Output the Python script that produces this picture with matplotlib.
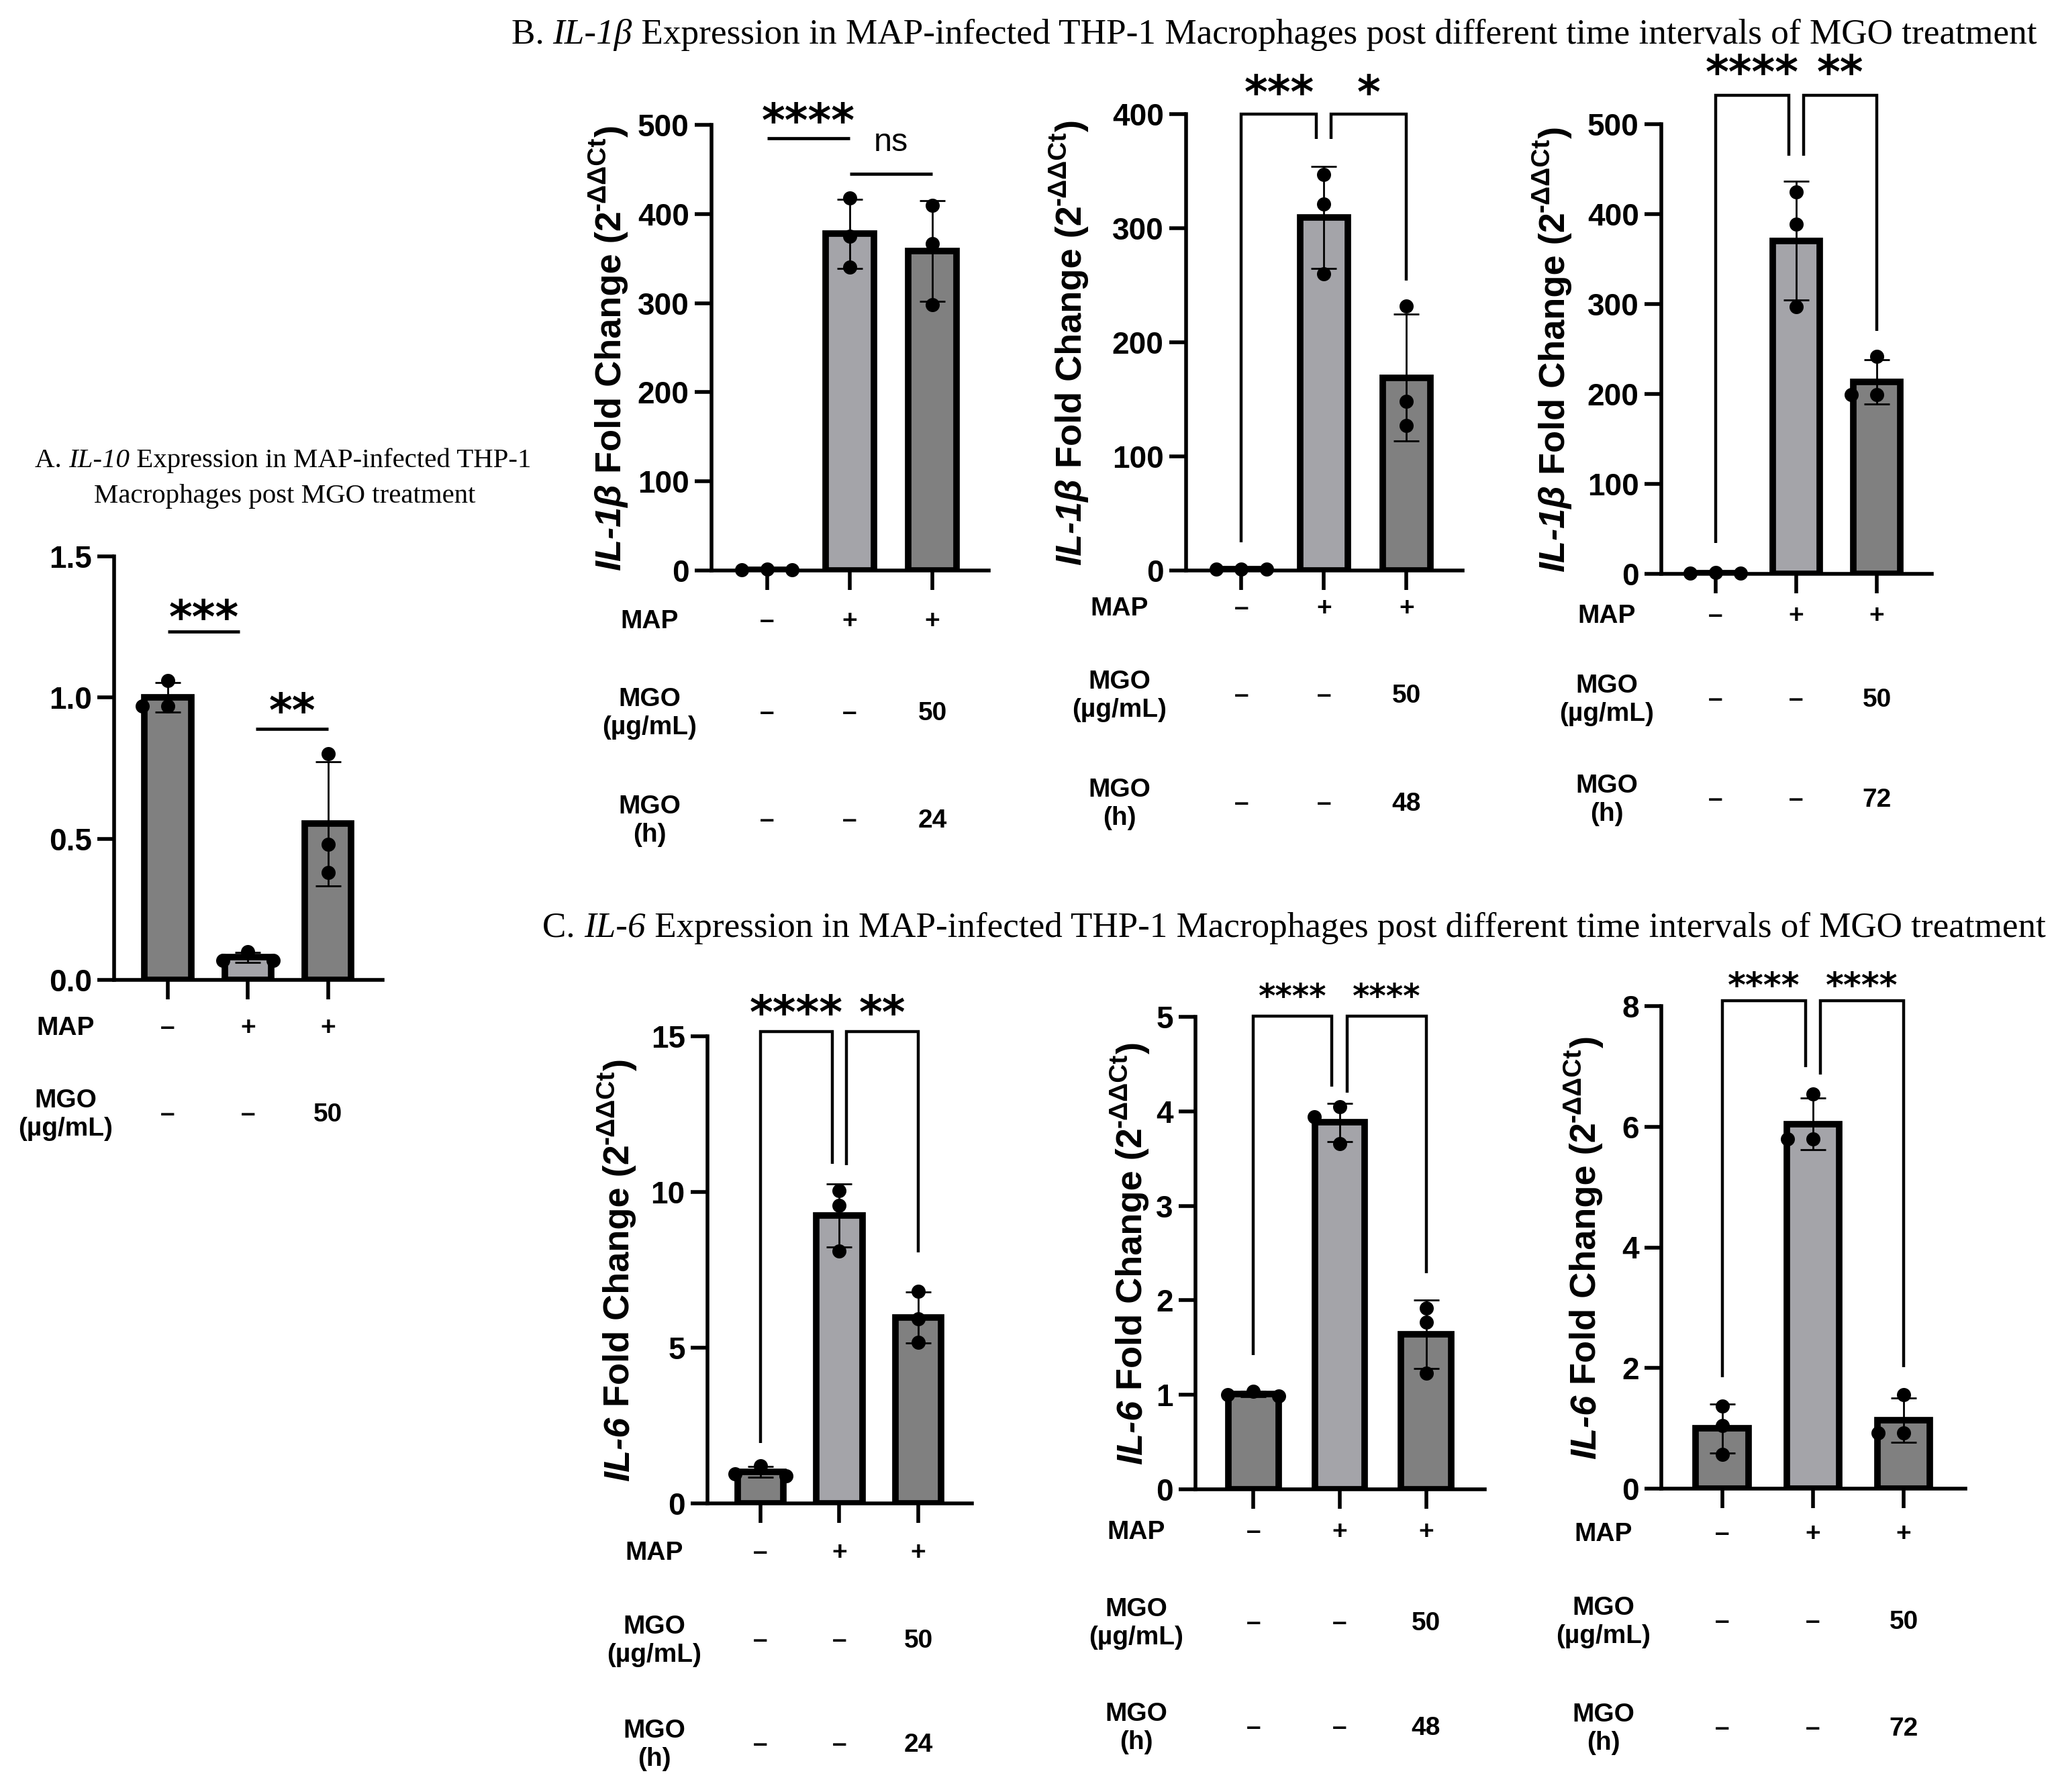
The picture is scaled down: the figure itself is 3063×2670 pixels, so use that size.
import numpy as np
import matplotlib
matplotlib.use("Agg")
import matplotlib.pyplot as plt
from matplotlib.font_manager import FontProperties
from matplotlib.transforms import IdentityTransform, ScaledTranslation, blended_transform_factory

plt.rcParams["font.family"] = ["Liberation Sans", "DejaVu Sans"]
plt.rcParams["font.weight"] = "bold"

# ── Treatment rows printed under each panel ───────────────────────────────────
ROW_NAMES = ["MAP", "MGO\n(µg/mL)", "MGO\n(h)"]
MAP_ROW = ["–", "+", "+"]
DOSE_ROW = ["–", "–", "50"]
TIME_24 = ["–", "–", "24"]
TIME_48 = ["–", "–", "48"]
TIME_72 = ["–", "–", "72"]

# ── Replicates: fold change (2^-ΔΔCt), three wells per group ──────────────────
il10_pts = [[1.06, 0.97, 0.97], [0.10, 0.07, 0.07], [0.80, 0.48, 0.38]]
il1b_24h_pts = [[1.2, 0.9, 0.9], [418, 375, 340], [410, 367, 298]]
il1b_48h_pts = [[1.2, 0.9, 0.9], [347, 321, 260], [232, 148, 127]]
il1b_72h_pts = [[1.2, 0.9, 0.9], [425, 389, 297], [242, 199, 199]]
il6_24h_pts = [[1.20, 0.95, 0.88], [10.04, 9.57, 8.10], [6.81, 5.93, 5.17]]
il6_48h_pts = [[1.04, 1.00, 0.99], [4.05, 3.94, 3.66], [1.92, 1.77, 1.23]]
il6_72h_pts = [[1.37, 1.05, 0.57], [6.54, 5.80, 5.80], [1.56, 0.92, 0.92]]

# ── Significance: (bar i, bar j, label, line height, leg end i, leg end j, label height)
il10_sig = [(0, 1, "***", 1.233, None, None, 1.32), (1, 2, "**", 0.89, None, None, 0.99)]
il1b_24h_sig = [(0, 1, "****", 485, None, None, 516), (1, 2, "ns", 445, None, None, 480)]
il1b_48h_sig = [(0, 1, "***", 400, 25, 378, 428), (1, 2, "*", 400, 378, 254, 428)]
il1b_72h_sig = [(0, 1, "****", 532, 34, 465, 569), (1, 2, "**", 532, 465, 270, 569)]
il6_24h_sig = [(0, 1, "****", 15.15, 1.94, 10.9, 16.1), (1, 2, "**", 15.15, 10.87, 8.05, 16.1)]
il6_48h_sig = [(0, 1, "****", 5.01, 1.42, 4.26, 5.3), (1, 2, "****", 5.01, 4.2, 2.29, 5.3)]
il6_72h_sig = [(0, 1, "****", 8.09, 1.85, 6.99, 8.49), (1, 2, "****", 8.09, 6.86, 2.01, 8.49)]

# ── Y ticks ───────────────────────────────────────────────────────────────────
il10_yticks = [0, 0.5, 1.0, 1.5]
il1b_24h_yticks = [0, 100, 200, 300, 400, 500]
il1b_48h_yticks = [0, 100, 200, 300, 400]
il1b_72h_yticks = [0, 100, 200, 300, 400, 500]
il6_24h_yticks = [0, 5, 10, 15]
il6_48h_yticks = [0, 1, 2, 3, 4, 5]
il6_72h_yticks = [0, 2, 4, 6, 8]

# ── Layout (output pixels, measured from the top-left corner) ─────────────────
W, H, DPI = 3063, 2670, 100
PANELS = [
    dict(pts=il10_pts, sig=il10_sig, yticks=il10_yticks, fmt="{:.1f}", gene=None,
         rows=[MAP_ROW, DOSE_ROW], spine=170, right=570, y0=1460, ytop=829,
         ylab_x=None, row_x=98, rows_y=[1532, 1661], gap=0.1, star=48),
    dict(pts=il1b_24h_pts, sig=il1b_24h_sig, yticks=il1b_24h_yticks, fmt="{:.0f}", gene="IL-1β",
         rows=[MAP_ROW, DOSE_ROW, TIME_24], spine=1060, right=1473, y0=850, ytop=186,
         ylab_x=905, row_x=968, rows_y=[926, 1063, 1223], gap=0.0, star=48),
    dict(pts=il1b_48h_pts, sig=il1b_48h_sig, yticks=il1b_48h_yticks, fmt="{:.0f}", gene="IL-1β",
         rows=[MAP_ROW, DOSE_ROW, TIME_48], spine=1767, right=2179, y0=850, ytop=170,
         ylab_x=1591, row_x=1668, rows_y=[907, 1037, 1198], gap=0.09, star=48),
    dict(pts=il1b_72h_pts, sig=il1b_72h_sig, yticks=il1b_72h_yticks, fmt="{:.0f}", gene="IL-1β",
         rows=[MAP_ROW, DOSE_ROW, TIME_72], spine=2475, right=2878, y0=855, ytop=185,
         ylab_x=2311, row_x=2394, rows_y=[918, 1043, 1192], gap=0.09, star=48),
    dict(pts=il6_24h_pts, sig=il6_24h_sig, yticks=il6_24h_yticks, fmt="{:.0f}", gene="IL-6",
         rows=[MAP_ROW, DOSE_ROW, TIME_24], spine=1054, right=1448, y0=2240, ytop=1544,
         ylab_x=918, row_x=975, rows_y=[2314, 2445, 2600], gap=0.09, star=48),
    dict(pts=il6_48h_pts, sig=il6_48h_sig, yticks=il6_48h_yticks, fmt="{:.0f}", gene="IL-6",
         rows=[MAP_ROW, DOSE_ROW, TIME_48], spine=1781, right=2212, y0=2219, ytop=1515,
         ylab_x=1682, row_x=1693, rows_y=[2283, 2419, 2575], gap=0.09, star=35),
    dict(pts=il6_72h_pts, sig=il6_72h_sig, yticks=il6_72h_yticks, fmt="{:.0f}", gene="IL-6",
         rows=[MAP_ROW, DOSE_ROW, TIME_72], spine=2475, right=2928, y0=2218, ytop=1499,
         ylab_x=2358, row_x=2389, rows_y=[2286, 2417, 2576], gap=0.08, star=37),
]

BAR_FILLS = ["#808080", "#a4a4a9", "#808080"]
BAR_W = 0.58
XLIM = (-0.67, 2.68)
DOT_PX = 21
LW_AX = 4.0
ROW_SIZE = 28

fig = plt.figure(figsize=(W / DPI, H / DPI), dpi=DPI)
renderer = fig.canvas.get_renderer()
PX = IdentityTransform()


def advance(s, prop):
    # glyph advance of s, including spaces at its ends
    w1 = renderer.get_text_width_height_descent("|" + s + "|", prop, ismath=False)[0]
    w0 = renderer.get_text_width_height_descent("||", prop, ismath=False)[0]
    return w1 - w0


def draw_rich(pieces, cx, cy, rotated=False):
    """pieces: (text, FontProperties, baseline shift px). cx, cy: baseline centre, display px."""
    advs = [advance(s, pr) for s, pr, _ in pieces]
    pos = -sum(advs) / 2
    for (s, pr, dy), a in zip(pieces, advs):
        if rotated:
            fig.text(cx - dy, cy + pos, s, fontproperties=pr, rotation=90, rotation_mode="anchor",
                     ha="left", va="baseline", transform=PX)
        else:
            fig.text(cx + pos, cy + dy, s, fontproperties=pr, ha="left", va="baseline", transform=PX)
        pos += a


def serif(size, italic=False):
    return FontProperties(family="Liberation Serif", weight="normal",
                          style="italic" if italic else "normal", size=size)


def title_line(parts, cx, yc, width=None, size=None):
    if size is None:
        ref = sum(advance(s, serif(30, it)) for s, it in parts)
        size = 30 * width / ref
    em = size * DPI / 72
    pieces = [(s, serif(size, it), 0) for s, it in parts]
    draw_rich(pieces, cx, H - yc - 0.33 * em)
    return size


def swarm(vals, y_per_unit, x_per_px):
    order = np.argsort(vals)[::-1]
    placed = []
    offs = np.zeros(len(vals))
    step = 1.8 * DOT_PX
    for k in order:
        for cand in (0, -step, step, -2 * step, 2 * step):
            ok = all(np.hypot(cand - ox, (vals[k] - vy) * y_per_unit) >= DOT_PX * 0.95
                     for ox, vy in placed)
            if ok:
                break
        placed.append((cand, vals[k]))
        offs[k] = cand * x_per_px
    return offs


for p in PANELS:
    ax = fig.add_axes([p["spine"] / W, 1 - p["y0"] / H,
                       (p["right"] - p["spine"]) / W, (p["y0"] - p["ytop"]) / H])
    pts = p["pts"]
    x = np.arange(len(pts))
    means = [np.mean(v) for v in pts]
    sds = [np.std(v, ddof=1) for v in pts]
    ymax = p["yticks"][-1]

    ax.bar(x, means, width=BAR_W, color=BAR_FILLS, edgecolor="black", linewidth=7, zorder=2)
    ax.errorbar(x, means, yerr=sds, fmt="none", ecolor="black", elinewidth=2.0,
                capsize=14, capthick=2.0, zorder=3)

    y_per_unit = (p["y0"] - p["ytop"]) / ymax
    x_per_px = (XLIM[1] - XLIM[0]) / (p["right"] - p["spine"])
    for xi, vals in zip(x, pts):
        vals = np.asarray(vals, float)
        ax.scatter(xi + swarm(vals, y_per_unit, x_per_px), vals, s=(DOT_PX * 72 / DPI) ** 2,
                   color="black", linewidths=0, zorder=4, clip_on=False)

    ax.set_xlim(*XLIM)
    ax.set_ylim(0, ymax)
    ax.set_yticks(p["yticks"])
    ax.set_yticklabels([p["fmt"].format(t) for t in p["yticks"]])
    ax.set_xticks(x)
    ax.tick_params(axis="x", length=21, width=LW_AX, labelbottom=False)
    ax.tick_params(axis="y", length=18, width=LW_AX, labelsize=33, pad=6)
    for s in ("top", "right"):
        ax.spines[s].set_visible(False)
    for s in ("left", "bottom"):
        ax.spines[s].set_linewidth(LW_AX)

    # significance lines / brackets
    uses = np.bincount([k for sg in p["sig"] for k in sg[:2]], minlength=3)
    for i, j, lab, top, leg_i, leg_j, ty in p["sig"]:
        xl = i + (p["gap"] if uses[i] > 1 else 0)
        xr = j - (p["gap"] if uses[j] > 1 else 0)
        if leg_i is None:
            ax.plot([xl, xr], [top, top], color="black", lw=3.4, clip_on=False,
                    solid_capstyle="butt")
        else:
            ax.plot([xl, xl, xr, xr], [leg_i, top, top, leg_j], color="black", lw=3.2,
                    clip_on=False, solid_capstyle="butt", solid_joinstyle="miter")
        if lab == "ns":
            size, fam, wt, shift = 35, "Liberation Sans", "normal", 0.26
        else:
            size, fam, wt, shift = p["star"], "DejaVu Sans", "bold", 0.58
        tr = ax.transData + ScaledTranslation(0, -shift * size / 72, fig.dpi_scale_trans)
        ax.text((xl + xr) / 2, ty, lab, fontsize=size, family=fam, fontweight=wt,
                ha="center", va="baseline", transform=tr, clip_on=False)

    # y label: italic gene name, plain text, superscript exponent
    if p["gene"]:
        size = 39
        em = size * DPI / 72
        bold = FontProperties(family="Liberation Sans", weight="bold", size=size)
        bold_it = FontProperties(family="Liberation Sans", weight="bold", style="italic", size=size)
        small = FontProperties(family="Liberation Sans", weight="bold", size=size * 0.72)
        pieces = [(p["gene"], bold_it, 0), (" Fold Change (2", bold, 0),
                  ("-ΔΔCt", small, 0.42 * em), (")", bold, 0)]
        draw_rich(pieces, p["ylab_x"] + 0.36 * em, H - (p["y0"] + p["ytop"]) / 2, rotated=True)

    # treatment table under the axis
    tr_rows = blended_transform_factory(ax.transData, PX)
    for name, row, yr in zip(ROW_NAMES, p["rows"], p["rows_y"]):
        fig.text(p["row_x"], H - yr, name, fontsize=ROW_SIZE, ha="center", va="center",
                 multialignment="center", linespacing=1.2, transform=PX)
        for xi, v in zip(x, row):
            ax.text(xi, H - yr, v, fontsize=ROW_SIZE, ha="center", va="center",
                    transform=tr_rows, clip_on=False)

# ── Panel titles ──────────────────────────────────────────────────────────────
size_a = title_line([("A. ", False), ("IL-10", True), (" Expression in MAP-infected THP-1", False)],
                    422, 682, width=740)
title_line([("Macrophages post MGO treatment", False)], 424, 735, size=size_a)
title_line([("B. ", False), ("IL-1β", True),
            (" Expression in MAP-infected THP-1 Macrophages post different time intervals of MGO treatment", False)],
           1898, 47, width=2270)
title_line([("C. ", False), ("IL-6", True),
            (" Expression in MAP-infected THP-1 Macrophages post different time intervals of MGO treatment", False)],
           1928, 1378, width=2241)

fig.savefig("out.png", dpi=DPI)
